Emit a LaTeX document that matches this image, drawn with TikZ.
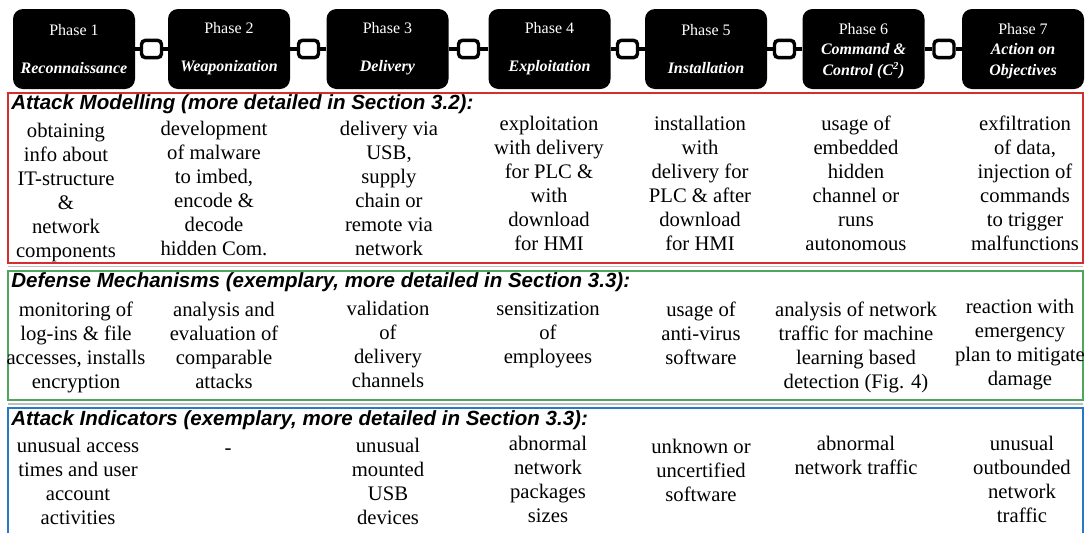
\documentclass[tikz,border=0pt]{standalone}
\usepackage{fontspec}
\setmainfont{Liberation Serif}
\setsansfont{Liberation Sans}
\definecolor{amred}{RGB}{214,45,45}
\definecolor{dmgreen}{RGB}{80,165,95}
\definecolor{aiblue}{RGB}{40,120,195}
\newcommand{\nodepth}[1]{\raisebox{0pt}[\height][0pt]{#1}}

\begin{document}
\begin{tikzpicture}[x=0.75pt,y=0.75pt,yscale=-1,xscale=1,
  phase/.style={fill=black,rounded corners=7.5pt,minimum width=91.5pt,minimum height=60pt,inner sep=0pt,text=white,align=center,font=\fontsize{12}{15.4}\selectfont},
  link/.style={draw=black,fill=white,line width=2.6pt,rounded corners=3pt,minimum width=15pt,minimum height=13pt,inner sep=0pt},
  chain/.style={line width=3pt},
  head/.style={anchor=west,inner sep=0pt,font=\sffamily\bfseries\itshape\fontsize{15.4}{18}\selectfont},
  cell/.style={align=center,inner sep=0pt,font=\fontsize{15.5}{18}\selectfont}]
\useasboundingbox (0,0) rectangle (1085,533);

%Phases
\node[phase] (p1) at (74,49) {Phase 1\\[13pt]\textbf{\textit{Reconnaissance}}};
\node[phase] (p2) at (229,49) {Phase 2\\[13pt]\textbf{\textit{Weaponization}}};
\node[phase] (p3) at (387.5,49) {Phase 3\\[13pt]\textbf{\textit{Delivery}}};
\node[phase] (p4) at (549.5,49) {Phase 4\\[13pt]\textbf{\textit{Exploitation}}};
\node[phase] (p5) at (706,49) {Phase 5\\[13pt]\textbf{\textit{Installation}}};
\node[phase] (p6) at (863.5,49) {Phase 6\\\textbf{\textit{Command \&}}\\\nodepth{\textbf{\textit{Control (C\textsuperscript{2})}}}};
\node[phase] (p7) at (1023,49) {Phase 7\\\textbf{\textit{Action on}}\\\nodepth{\textbf{\textit{Objectives}}}};

%Chain links
\node[link] (l1) at (151.5,49) {};
\node[link] (l2) at (308.5,49) {};
\node[link] (l3) at (468.5,49) {};
\node[link] (l4) at (627.5,49) {};
\node[link] (l5) at (784.5,49) {};
\node[link] (l6) at (944,49) {};
\draw[chain] (p1.east) -- (l1) -- (p2.west);
\draw[chain] (p2.east) -- (l2) -- (p3.west);
\draw[chain] (p3.east) -- (l3) -- (p4.west);
\draw[chain] (p4.east) -- (l4) -- (p5.west);
\draw[chain] (p5.east) -- (l5) -- (p6.west);
\draw[chain] (p6.east) -- (l6) -- (p7.west);

%Attack modelling
\draw[amred,line width=1.1pt] (8,93) rectangle (1083,263);
\draw[black!25,line width=0.8pt] (8,266.5) -- (1083,266.5);
\node[head] (amh) at (11,104) {Attack Modelling (more detailed in Section 3.2):};
\node[cell] (am1) at (66,193) {obtaining\\info about\\IT-structure\\\&\\network\\components};
\node[cell] (am2) at (214,188) {development\\of malware\\to imbed,\\encode \&\\decode\\hidden Com.};
\node[cell] (am3) at (389,188) {delivery via\\USB,\\supply\\chain or\\remote via\\network};
\node[cell] (am4) at (549,183) {exploitation\\with delivery\\for PLC \&\\with\\download\\for HMI};
\node[cell] (am5) at (700,183) {installation\\with\\delivery for\\PLC \& after\\download\\for HMI};
\node[cell] (am6) at (856,183) {usage of\\embedded\\hidden\\channel or\\runs\\autonomous};
\node[cell] (am7) at (1025,183) {exfiltration\\of data,\\injection of\\commands\\to trigger\\malfunctions};

%Defense mechanisms
\draw[dmgreen,line width=1.1pt] (8,271) rectangle (1083,400);
\draw[black!25,line width=0.8pt] (8,404) -- (1083,404);
\node[head] (dmh) at (11,282) {Defense Mechanisms (exemplary, more detailed in Section 3.3):};
\node[cell] (dm1) at (76,347) {monitoring of\\log-ins \& file\\accesses, installs\\encryption};
\node[cell] (dm2) at (224,345) {analysis and\\evaluation of\\comparable\\attacks};
\node[cell] (dm3) at (388,344) {validation\\of\\delivery\\channels};
\node[cell] (dm4) at (548,335) {sensitization\\of\\employees};
\node[cell] (dm5) at (701,333) {usage of\\anti-virus\\software};
\node[cell] (dm6) at (856,347) {analysis of network\\traffic for machine\\learning based\\detection (Fig. 4)};
\node[cell] (dm7) at (1020,344.5) {reaction with\\emergency\\plan to mitigate\\damage};

%Attack indicators
\draw[aiblue,line width=1.1pt] (8,533) -- (8,408) -- (1083,408) -- (1083,533);
\node[head] (aih) at (11,420) {Attack Indicators (exemplary, more detailed in Section 3.3):};
\node[cell] (ai1) at (78,481) {unusual access\\times and user\\account\\activities};
\node[cell] (ai2) at (228,452) {-};
\node[cell] (ai3) at (388,481) {unusual\\mounted\\USB\\devices};
\node[cell] (ai4) at (548,479.5) {abnormal\\network\\packages\\sizes};
\node[cell] (ai5) at (701,470) {unknown or\\uncertified\\software};
\node[cell] (ai6) at (856,455) {abnormal\\network traffic};
\node[cell] (ai7) at (1022,479) {unusual\\outbounded\\network\\traffic};

\end{tikzpicture}
\end{document}
